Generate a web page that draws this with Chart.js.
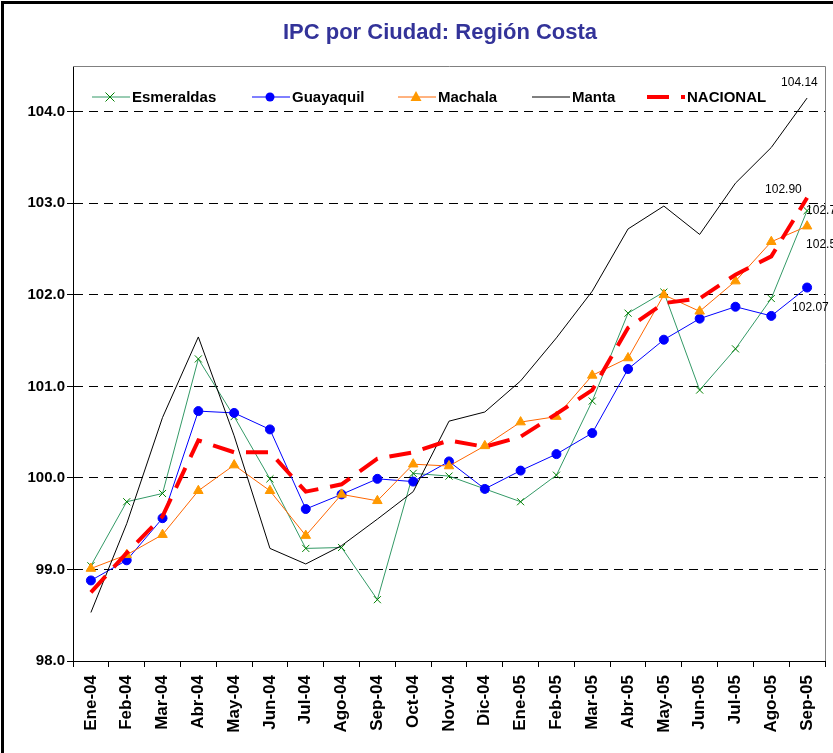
<!DOCTYPE html>
<html>
<head>
<meta charset="utf-8">
<script src="https://cdn.jsdelivr.net/npm/chart.js"></script>
<style>
  body { margin: 0; background: #fff; overflow: hidden; }
  #marco { position: absolute; left: 1px; top: 1px; width: 900px; height: 900px; border: 3px solid #000; pointer-events: none; }
  #graficaCosta { position: absolute; left: 0; top: 0; }
</style>
</head>
<body>
<canvas id="graficaCosta" width="880" height="790"></canvas>
<div id="marco"></div>
<script>
const meses = ['Ene-04','Feb-04','Mar-04','Abr-04','May-04','Jun-04','Jul-04','Ago-04','Sep-04','Oct-04','Nov-04','Dic-04',
  'Ene-05','Feb-05','Mar-05','Abr-05','May-05','Jun-05','Jul-05','Ago-05','Sep-05']

const esmeraldas = [99.04, 99.74, 99.83, 101.30, 100.67, 99.99, 99.23, 99.24, 98.67, 100.05, 100.02, 99.88,
  99.74, 100.03, 100.84, 101.80, 102.03, 100.96, 101.41, 101.96, 102.92]
const guayaquil = [98.88, 99.10, 99.56, 100.73, 100.71, 100.53, 99.66, 99.82, 99.99, 99.96, 100.18, 99.88,
  100.08, 100.26, 100.49, 101.19, 101.51, 101.74, 101.87, 101.77, 102.08]
const machala = [99.01, 99.16, 99.38, 99.86, 100.14, 99.86, 99.37, 99.82, 99.75, 100.15, 100.13, 100.35,
  100.61, 100.67, 101.12, 101.31, 102.00, 101.82, 102.15, 102.58, 102.75]
const manta = [98.53, 99.50, 100.66, 101.54, 100.46, 99.23, 99.06, 99.26, 99.55, 99.85, 100.62, 100.72,
  101.06, 101.53, 102.04, 102.72, 102.97, 102.66, 103.22, 103.61, 104.15]
const nacional = [98.75, 99.18, 99.58, 100.41, 100.28, 100.28, 99.85, 99.93, 100.21, 100.28, 100.41, 100.34,
  100.45, 100.70, 100.96, 101.64, 101.91, 101.96, 102.22, 102.42, 103.06]

const ticksY = [98, 99, 100, 101, 102, 103, 104]
// etiquetas del ultimo mes (orden: Esmeraldas, Guayaquil, Machala, Manta, NACIONAL)
const etiquetasFinales = ['102.74', '102.07', '102.57', '104.14', '102.90']

const fuente = '"Liberation Sans", Arial, sans-serif'

// desplazamiento de cada etiqueta respecto al ultimo punto
const posEtiquetas = [[-1, 0], [-15, 20], [-1, 18], [-26, -15], [-42, -8]]
// leyenda dentro del area del grafico
const posLeyenda = [92, 252, 398, 532, 647]

function marcador(c, estilo, x, y, color) {
  c.save()
  c.fillStyle = color
  c.strokeStyle = color
  c.lineWidth = 1
  if (estilo == 'crossRot') {
    c.beginPath()
    c.moveTo(x - 4.5, y - 4.5); c.lineTo(x + 4.5, y + 4.5)
    c.moveTo(x + 4.5, y - 4.5); c.lineTo(x - 4.5, y + 4.5)
    c.stroke()
  } else if (estilo == 'circle') {
    c.beginPath(); c.arc(x, y, 4.5, 0, Math.PI * 2); c.fill()
  } else if (estilo == 'triangle') {
    c.beginPath(); c.moveTo(x, y - 6); c.lineTo(x + 5.5, y + 4); c.lineTo(x - 5.5, y + 4); c.closePath(); c.fill()
  }
  c.restore()
}

const decoracion = {
  id: 'decoracion',
  afterDraw(chart) {
    const c = chart.ctx
    const a = chart.chartArea
    c.save()
    // marco gris
    c.strokeStyle = '#808080'
    c.lineWidth = 1
    c.beginPath()
    c.moveTo(a.left, a.top + 0.5)
    c.lineTo(a.right + 0.5, a.top + 0.5)
    c.lineTo(a.right + 0.5, a.bottom)
    c.stroke()

    // titulo
    c.fillStyle = '#333399'
    c.font = 'bold 22px ' + fuente
    c.textAlign = 'center'
    c.textBaseline = 'middle'
    c.fillText('IPC por Ciudad: Región Costa', 440, 33)

    // leyenda
    chart.data.datasets.forEach((ds, i) => {
      const x0 = posLeyenda[i]
      const y0 = 97
      c.save()
      c.strokeStyle = ds.borderColor
      c.lineWidth = ds.borderWidth
      c.setLineDash(ds.borderDash || [])
      c.beginPath(); c.moveTo(x0, y0); c.lineTo(x0 + 38, y0); c.stroke()
      c.restore()
      if (ds.pointRadius > 0) marcador(c, ds.pointStyle, x0 + 18, y0, ds.pointBackgroundColor)
      c.fillStyle = '#000'
      c.font = 'bold 15px ' + fuente
      c.textAlign = 'left'
      c.fillText(ds.label, x0 + 40, y0 + 1)
    })

    // etiquetas de datos del ultimo punto
    c.font = '12px ' + fuente
    c.fillStyle = '#000'
    c.textAlign = 'left'
    etiquetasFinales.forEach((txt, i) => {
      const meta = chart.getDatasetMeta(i)
      const p = meta.data[meta.data.length - 1]
      c.fillText(txt, p.x + posEtiquetas[i][0], p.y + posEtiquetas[i][1])
    })
    c.restore()
  }
}

const ctx = document.getElementById('graficaCosta')

new Chart(ctx, {
  type: 'line',
  data: {
    labels: meses,
    datasets: [{
      label: 'Esmeraldas',
      data: esmeraldas,
      borderColor: '#339966',
      borderWidth: 1,
      pointStyle: 'crossRot',
      pointRadius: 5,
      pointBorderColor: '#008000',
      pointBackgroundColor: '#008000',
      pointBorderWidth: 1,
      order: 5
    }, {
      label: 'Guayaquil',
      data: guayaquil,
      borderColor: '#0000FF',
      borderWidth: 1,
      pointStyle: 'circle',
      pointRadius: 4.5,
      pointBorderColor: '#0000FF',
      pointBackgroundColor: '#0000FF',
      order: 4
    }, {
      label: 'Machala',
      data: machala,
      borderColor: '#FF6600',
      borderWidth: 1,
      pointStyle: 'triangle',
      pointRadius: 5.5,
      pointBorderColor: '#FF9900',
      pointBackgroundColor: '#FF9900',
      order: 3
    }, {
      label: 'Manta',
      data: manta,
      borderColor: '#000000',
      borderWidth: 1,
      pointRadius: 0,
      order: 2
    }, {
      label: 'NACIONAL',
      data: nacional,
      borderColor: '#FF0000',
      borderWidth: 4,
      borderDash: [22, 12],
      pointRadius: 0,
      order: 1
    }]
  },
  options: {
    responsive: false,
    animation: false,
    devicePixelRatio: 1,
    layout: { padding: { left: 0, right: 55, top: 66, bottom: 0 } },
    elements: { line: { tension: 0 } },
    scales: {
      x: {
        offset: true,
        afterFit: s => { s.height = 129 },
        grid: { offset: true, drawOnChartArea: false, tickLength: 6, color: '#000' },
        border: { color: '#000', width: 1 },
        ticks: {
          autoSkip: false,
          minRotation: 90,
          maxRotation: 90,
          padding: 8,
          color: '#000',
          font: { family: fuente, size: 17, weight: 'bold' }
        }
      },
      y: {
        min: 98,
        max: 104.5,
        afterFit: s => { s.width = 73 },
        afterBuildTicks: s => { s.ticks = ticksY.map(v => ({ value: v })) },
        grid: { color: '#000', tickLength: 6, tickColor: '#000' },
        border: { color: '#000', width: 1, dash: [9, 6] },
        ticks: {
          padding: 2,
          color: '#000',
          font: { family: fuente, size: 15, weight: 'bold' },
          callback: v => v.toFixed(1)
        }
      }
    },
    plugins: {
      legend: { display: false },
      tooltip: { enabled: false }
    }
  },
  plugins: [decoracion]
});
</script>
</body>
</html>
